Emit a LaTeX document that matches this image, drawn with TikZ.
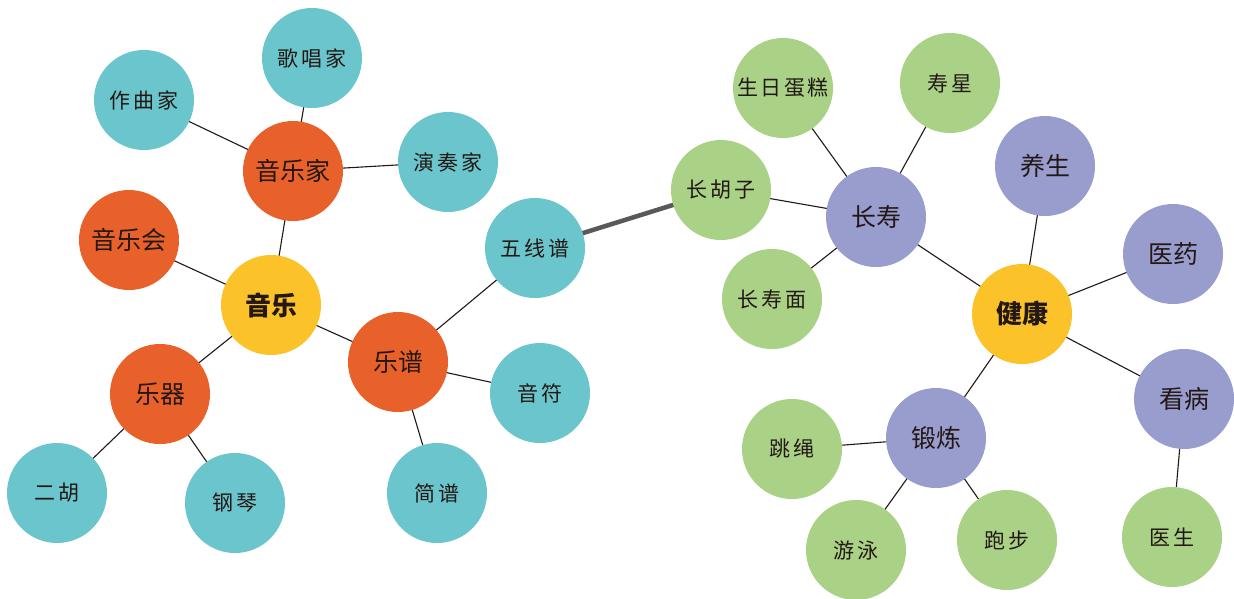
\documentclass[tikz,border=0pt]{standalone}
\usepackage{fontspec}
\newfontfamily\cjk{Noto Sans CJK SC}
\newfontfamily\cjksp{Noto Sans CJK SC}[LetterSpace=12]
\usetikzlibrary{backgrounds}
\definecolor{teal1}{HTML}{6BC5CC}
\definecolor{orng}{HTML}{E9612A}
\definecolor{yell}{HTML}{FBC229}
\definecolor{grn}{HTML}{AAD286}
\definecolor{purp}{HTML}{989DCD}
\definecolor{txt}{HTML}{231815}
\tikzset{
  bub/.style={circle, minimum size=100pt, inner sep=0pt, text=txt},
  leafT/.style={bub, fill=teal1, font=\cjksp\fontsize{21}{21}\selectfont},
  leafG/.style={bub, fill=grn, font=\cjksp\fontsize{21}{21}\selectfont},
  midO/.style={bub, fill=orng, font=\cjk\fontsize{25}{25}\selectfont},
  midP/.style={bub, fill=purp, font=\cjk\fontsize{25}{25}\selectfont},
  hub/.style={bub, fill=yell, font=\cjk\bfseries\fontsize{26}{26}\selectfont},
  edge/.style={draw=txt, line width=1.1pt},
  thick edge/.style={draw=black!65, line width=4.5pt}
}
\begin{document}
\begin{tikzpicture}[x=1pt,y=-1pt]
\useasboundingbox (0,0) rectangle (1234,598);
% left cluster
\node[leafT] (gcj) at (312,58) {歌唱家};
\node[leafT] (zqj) at (144,100) {作曲家};
\node[midO] (yyj) at (293,171) {音乐家};
\node[leafT] (yzj) at (448,162) {演奏家};
\node[midO] (yyh) at (129,240) {音乐会};
\node[hub] (yy) at (271,305) {音乐};
\node[leafT] (wxp) at (535,248) {五线谱};
\node[midO] (yp) at (398,362) {乐谱};
\node[midO] (yq) at (160,394) {乐器};
\node[leafT] (yf) at (540,393) {音符};
\node[leafT] (eh) at (57,493) {二胡};
\node[leafT] (gq) at (235,503) {钢琴};
\node[leafT] (jp) at (437,493) {简谱};
% right cluster
\node[leafG] (chz) at (721,190) {长胡子};
\node[leafG] (srdg) at (783,88) {生日蛋糕};
\node[leafG] (sx) at (950,83) {寿星};
\node[midP] (cs) at (876,217) {长寿};
\node[midP] (ys) at (1045,166) {养生};
\node[leafG] (csm) at (772,299) {长寿面};
\node[midP] (yyao) at (1173,254) {医药};
\node[hub] (jk) at (1022,314) {健康};
\node[midP] (kb) at (1184,399) {看病};
\node[midP] (dl) at (936,438) {锻炼};
\node[leafG] (ts) at (792,449) {跳绳};
\node[leafG] (yyong) at (856,550) {游泳};
\node[leafG] (pb) at (1007,540) {跑步};
\node[leafG] (ysh) at (1172,537) {医生};
\begin{scope}[on background layer]
\fill[white] (0,0) rectangle (1234,598);
\draw[thick edge] (wxp.center) -- (chz.center);
\foreach \a/\b in {gcj/yyj, zqj/yyj, yyj/yzj, yyj/yy, yyh/yy, yy/yq, yy/yp,
  yp/wxp, yp/yf, yp/jp, yq/eh, yq/gq,
  chz/cs, srdg/cs, sx/cs, cs/csm, cs/jk, ys/jk, yyao/jk, jk/kb, jk/dl,
  kb/ysh, dl/ts, dl/yyong, dl/pb}
  \draw[edge] (\a.center) -- (\b.center);
\end{scope}
\end{tikzpicture}
\end{document}
